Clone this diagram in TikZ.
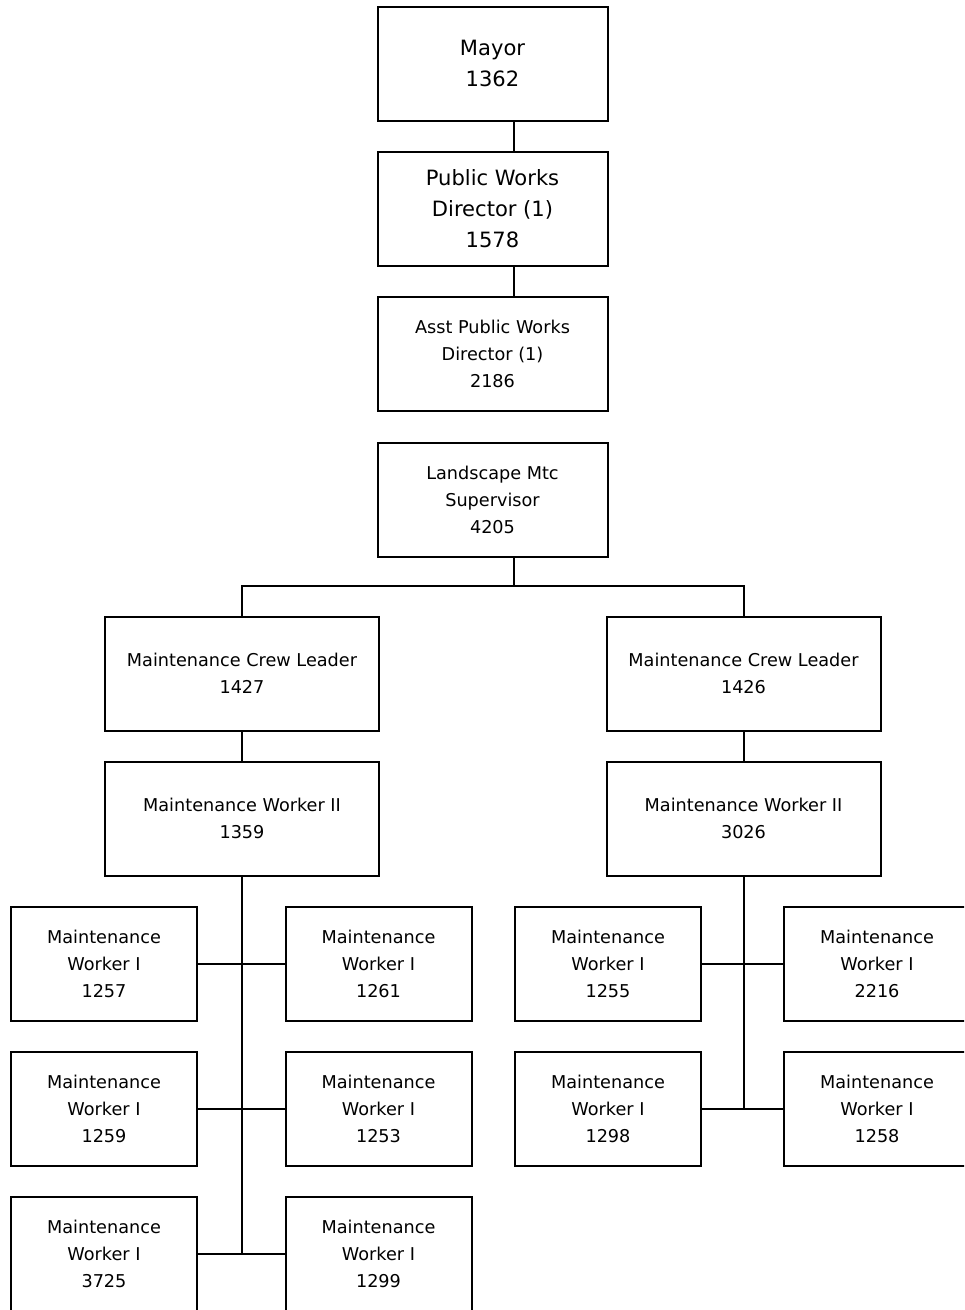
\documentclass[tikz,border=0pt]{standalone}
\usepackage{fontspec}
\setmainfont{DejaVu Sans}
\usetikzlibrary{positioning}

\begin{document}
\begin{tikzpicture}[x=0.75pt, y=-0.75pt, line width=1.5pt,
    box/.style={draw, align=center, inner sep=0pt, minimum height=85.5pt},
    bigtext/.style={font=\fontsize{15.8}{23.25}\selectfont},
    smalltext/.style={font=\fontsize{13.25}{20.25}\selectfont},
    headbox/.style={box, minimum width=172.5pt},
    crewbox/.style={box, smalltext, minimum width=205.5pt},
    workbox/.style={box, smalltext, minimum width=139.5pt}]
    \clip (0,0) rectangle (964,1310);

    % Leitung
    \node[headbox, bigtext] (mayor) at (492.5,63.5) {Mayor\\1362};
    \node[headbox, bigtext] (pwd) at (492.5,209) {Public Works\\Director (1)\\1578};
    \node[headbox, smalltext] (asst) at (492.5,354) {Asst Public Works\\Director (1)\\2186};
    \node[headbox, smalltext] (super) at (492.5,499.5) {Landscape Mtc\\Supervisor\\4205};

    % Crews
    \node[crewbox] (leadA) at (242,673.5) {Maintenance Crew Leader\\1427};
    \node[crewbox] (leadB) at (743.5,673.5) {Maintenance Crew Leader\\1426};
    \node[crewbox] (twoA) at (242,818.5) {Maintenance Worker II\\1359};
    \node[crewbox] (twoB) at (743.5,818.5) {Maintenance Worker II\\3026};

    % Worker I, linke Gruppe
    \node[workbox] (oneA1) at (104,963.5) {Maintenance\\Worker I\\1257};
    \node[workbox] (oneA2) at (378.5,963.5) {Maintenance\\Worker I\\1261};
    \node[workbox] (oneA3) at (104,1108.5) {Maintenance\\Worker I\\1259};
    \node[workbox] (oneA4) at (378.5,1108.5) {Maintenance\\Worker I\\1253};
    \node[workbox] (oneA5) at (104,1253.5) {Maintenance\\Worker I\\3725};
    \node[workbox] (oneA6) at (378.5,1253.5) {Maintenance\\Worker I\\1299};

    % Worker I, rechte Gruppe
    \node[workbox] (oneB1) at (608,963.5) {Maintenance\\Worker I\\1255};
    \node[workbox] (oneB2) at (877,963.5) {Maintenance\\Worker I\\2216};
    \node[workbox] (oneB3) at (608,1108.5) {Maintenance\\Worker I\\1298};
    \node[workbox] (oneB4) at (877,1108.5) {Maintenance\\Worker I\\1258};

    % Verbindungen
    \coordinate (spine) at (514,0);
    \coordinate (bus) at (0,586);
    \draw (mayor.south -| spine) -- (pwd.north -| spine);
    \draw (pwd.south -| spine) -- (asst.north -| spine);
    \draw (super.south -| spine) -- (spine |- bus);
    \draw (leadA.north) -- (leadA.north |- bus) -- (leadB.north |- bus) -- (leadB.north);
    \draw (leadA.south) -- (twoA.north);
    \draw (leadB.south) -- (twoB.north);

    \draw (twoA.south) -- (twoA.south |- oneA5.east);
    \draw (oneA1.east) -- (oneA2.west);
    \draw (oneA3.east) -- (oneA4.west);
    \draw (oneA5.east) -- (oneA6.west);

    \draw (twoB.south) -- (twoB.south |- oneB3.east);
    \draw (oneB1.east) -- (oneB2.west);
    \draw (oneB3.east) -- (oneB4.west);
\end{tikzpicture}
\end{document}
